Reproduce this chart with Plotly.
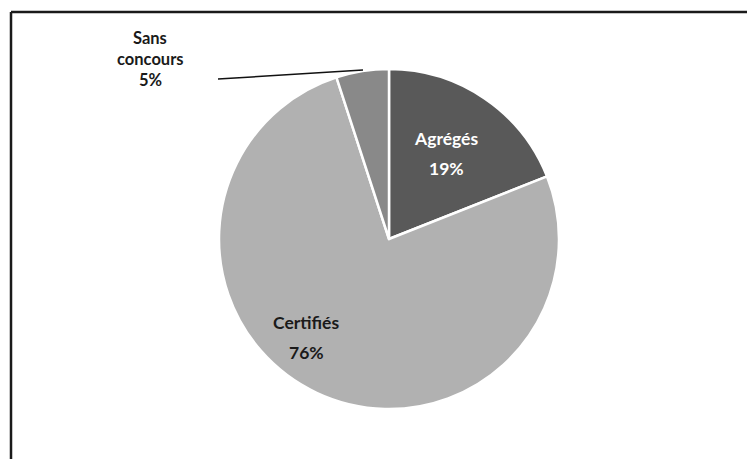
import plotly.graph_objects as go

labels = ["Agrégés", "Certifiés", "Sans concours"]
values = [19, 76, 5]
colors = ["#595959", "#b1b1b1", "#898989"]
label_colors = ["#ffffff", "#1a1a1a", "#1a1a1a"]

W, H = 755, 459
OFF = 8  # page body margin offset
def px(x):
    return (x - OFF) / W
def py(y):
    return 1 - (y - OFF) / H

total = sum(values)
pcts = [f"{round(v / total * 100)}%" for v in values]

fig = go.Figure(go.Pie(
    labels=labels,
    values=values,
    sort=False,
    direction="clockwise",
    rotation=0,
    marker=dict(colors=colors, line=dict(color="#ffffff", width=2.5)),
    textinfo="none",
    hoverinfo="label+percent",
    showlegend=False,
    domain=dict(x=[px(219), px(559)], y=[py(409), py(69)]),
))

font = "Lato, 'Open Sans', sans-serif"
annotations = []
inside_pos = {0: (446, 139, 168), 1: (306, 322, 352)}
for i, (cx, y1, y2) in inside_pos.items():
    for txt, yy in ((labels[i], y1), (pcts[i], y2)):
        annotations.append(dict(x=px(cx), y=py(yy), xref="paper", yref="paper",
                                xanchor="center", yanchor="middle",
                                text=f"<b>{txt}</b>", showarrow=False,
                                font=dict(family=font, size=17.5, color=label_colors[i])))
words = labels[2].split(" ")
for line, yy in zip(words + [pcts[2]], [38, 59, 80]):
    annotations.append(dict(x=px(150), y=py(yy), xref="paper", yref="paper",
                            xanchor="center", yanchor="middle",
                            text=f"<b>{line}</b>", showarrow=False,
                            font=dict(family=font, size=16.5, color=label_colors[2])))

shapes = [
    dict(type="line", xref="paper", yref="paper", x0=px(218), y0=py(79), x1=px(363), y1=py(70),
         line=dict(color="#111111", width=1.5)),
    dict(type="line", xref="paper", yref="paper", x0=px(11), y0=py(12), x1=1.05, y1=py(12),
         line=dict(color="#1a1a1a", width=2.5)),
    dict(type="line", xref="paper", yref="paper", x0=px(11), y0=py(12), x1=px(11), y1=-0.05,
         line=dict(color="#1a1a1a", width=2.5)),
]

fig.update_layout(
    width=W, height=H,
    margin=dict(l=0, r=0, t=0, b=0),
    paper_bgcolor="#ffffff",
    plot_bgcolor="#ffffff",
    annotations=annotations,
    shapes=shapes,
)

fig.write_html("out.html")
